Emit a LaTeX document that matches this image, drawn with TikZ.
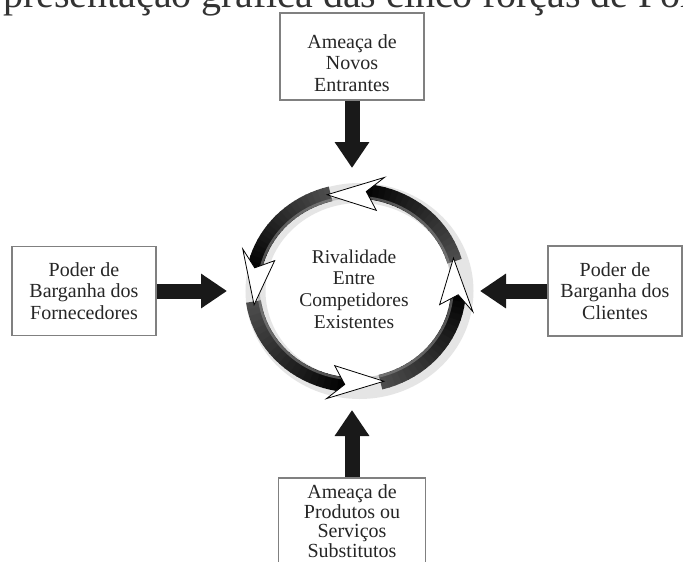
\documentclass[tikz,border=0pt]{standalone}
\usepackage{fontspec}
\setmainfont{Liberation Serif}
\usepackage{tikz}
\usetikzlibrary{arrows.meta, positioning, calc}

\begin{document}
\begin{tikzpicture}[x=1pt, y=1pt,
    force/.style={line width=15pt, draw=black!90, -{Triangle[length=26pt,width=33pt]}},
    forcebox/.style={draw=black!50, line width=1.6pt, fill=white, align=center,
        inner sep=0pt, text=black!85, font=\fontsize{20}{21.5}\selectfont},
    forcetext/.style={align=center, inner sep=0pt, text=black!85,
        font=\fontsize{20}{21.5}\selectfont}]
\useasboundingbox (0,0) rectangle (683,-562);
\clip (0,0) rectangle (683,-562);
\fill[white] (0,0) rectangle (683,-562);

% line of the page above, cut off
\node[anchor=south west, inner sep=0pt, text=black!80, font=\fontsize{40}{40}\selectfont]
    (caption) at (3,-16) {presentação gráfica das cinco forças de Porter};

% ring of rivalry
\coordinate (C) at (355.5,-288);
\draw[black!10, line width=20pt] ($(C)+(4,-3)$) ellipse [x radius=104, y radius=98];
\foreach \c/\n in {2/90, 90/174, 174/270, 270/362} {
    \foreach \i in {0,...,19} {
        \pgfmathsetmacro\ta{\c+14+\i*(\n-\c-20)/20}
        \pgfmathsetmacro\tb{\ta+(\n-\c-20)/20+0.6}
        \pgfmathsetmacro\sh{70+1.5*\i}
        \draw[black!\sh, line width=15pt] ($(C)+(\ta:103 and 97)$)
            arc[start angle=\ta, end angle=\tb, x radius=103, y radius=97];
    }
}
\draw[black!40, line width=2.5pt, opacity=0.5] (C) ellipse [x radius=97, y radius=91];
\foreach \c in {2,90,174,270}
    \filldraw[fill=white, draw=black, line width=0.8pt]
        ($(C)+(\c-14:120 and 114)$) -- ($(C)+(\c+16:103 and 97)$)
        -- ($(C)+(\c-14:86 and 80)$) -- ($(C)+(\c-6:103 and 97)$) -- cycle;

\node[align=center, text=black!85, font=\fontsize{19.5}{21.7}\selectfont]
    (rivalry) at (354,-289) {Rivalidade\\Entre\\Competidores\\Existentes};

% the four forces
\node[forcebox, minimum width=144pt, minimum height=87pt] (entrants) at (352,-56.5) {};
\node[forcetext] (entrantstext) at ([yshift=-6.5pt]entrants.center) {Ameaça de\\Novos\\Entrantes};
\node[forcebox, minimum width=144pt, minimum height=89pt]
    (suppliers) at (84,-291) {Poder de\\Barganha dos\\Fornecedores};
\node[forcebox, minimum width=134pt, minimum height=90pt]
    (buyers) at (615,-291) {Poder de\\Barganha dos\\Clientes};
\node[forcebox, anchor=north, minimum width=147pt, inner ysep=7pt,
    font=\fontsize{20}{19.5}\selectfont]
    (substitutes) at (352,-477) {Ameaça de\\Produtos ou\\Serviços\\Substitutos};

\coordinate (ntip) at (352,-168);
\coordinate (wtip) at (227,-291);
\coordinate (etip) at (480,-291);
\coordinate (stip) at (352,-410);
\draw[force] (entrants.south) -- (ntip);
\draw[force] (suppliers.east) -- (wtip);
\draw[force] (buyers.west) -- (etip);
\draw[force] (substitutes.north) -- (stip);
\end{tikzpicture}
\end{document}
